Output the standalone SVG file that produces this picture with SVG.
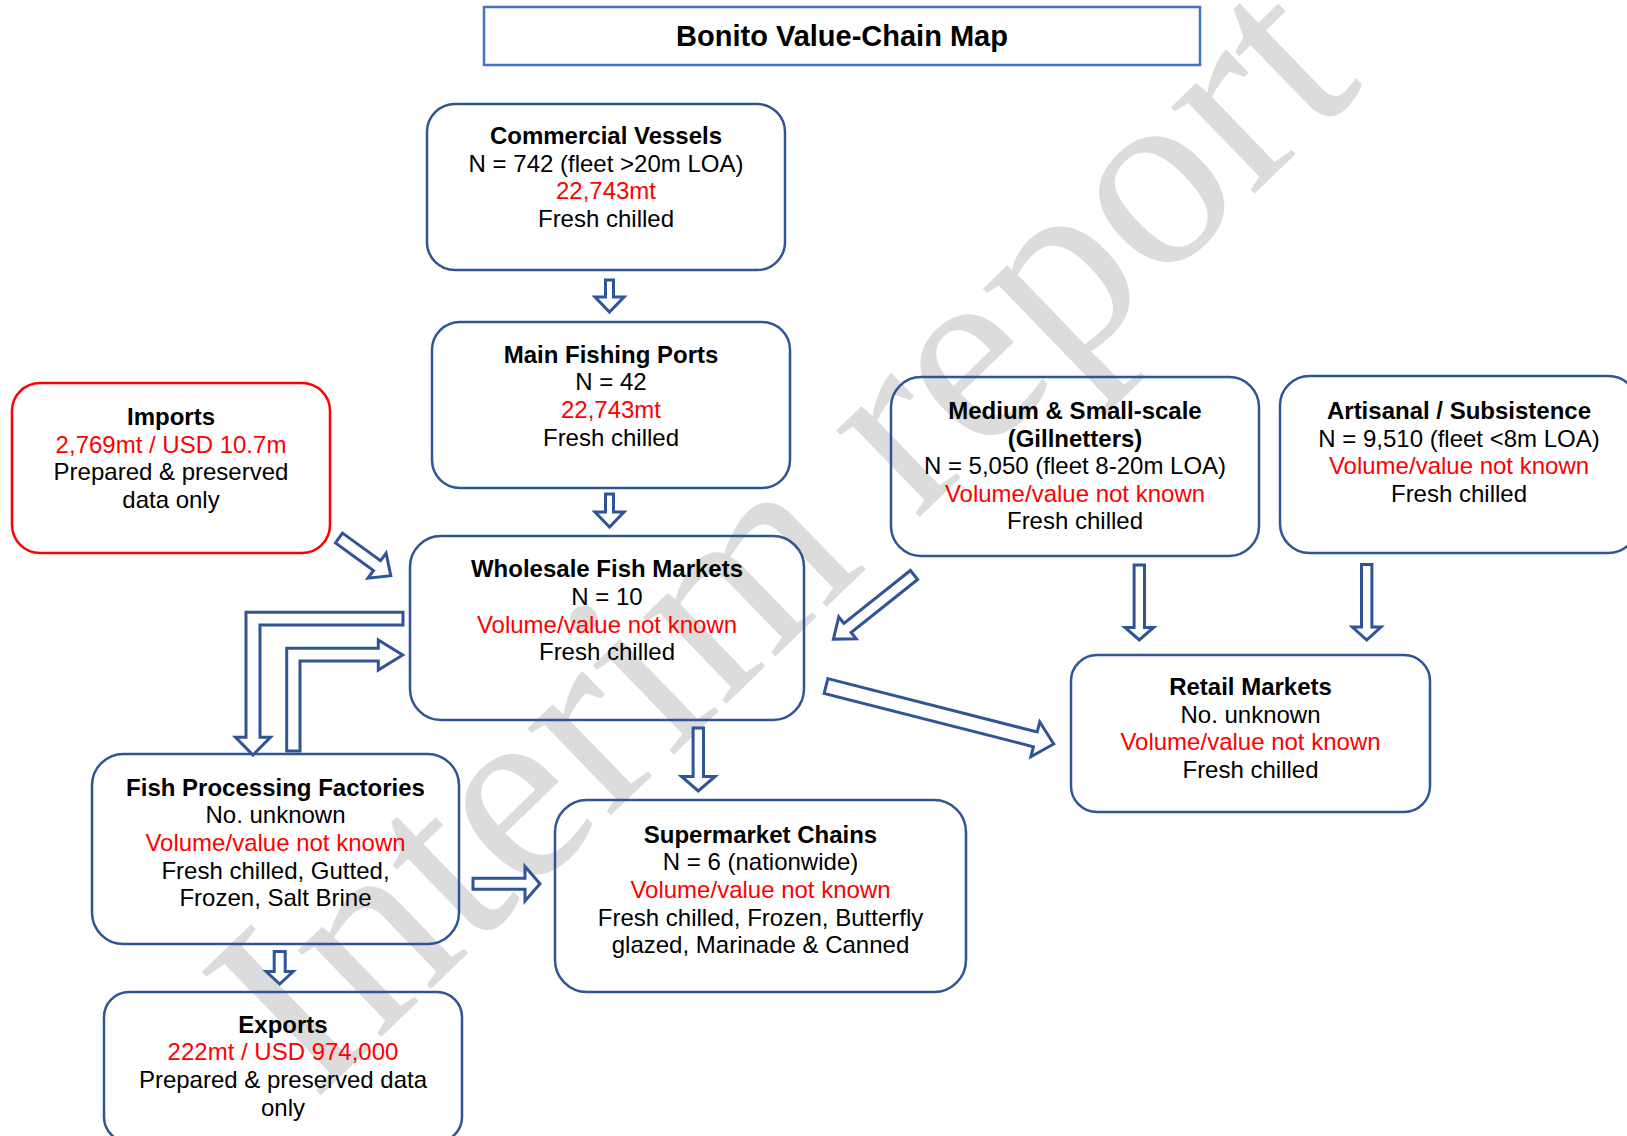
<svg xmlns="http://www.w3.org/2000/svg" width="1627" height="1136" viewBox="0 0 1627 1136">
<style>
.box{fill:none;stroke:#2F5597;stroke-width:2.5}
.rbox{fill:none;stroke:#FF0000;stroke-width:2.5}
.tbox{fill:none;stroke:#4472C4;stroke-width:2.5}
text{font-family:"Liberation Sans",Arial,sans-serif;font-size:24px;text-anchor:middle;fill:#000}
.b{font-weight:bold}
.r{fill:#FF0000}
.arrow{fill:#fff;stroke:#2F5597;stroke-width:3;stroke-linejoin:miter}
.wm{font-family:"Liberation Serif","Times New Roman",serif;font-size:262px;fill:#dcdcdc;text-anchor:middle}
</style>
<rect width="1627" height="1136" fill="#fff"/>
<text class="wm" x="840" y="594" transform="rotate(-44 840 594)">Interim report</text>

<g id="title">
<rect class="tbox" x="484" y="7" width="716" height="58"/>
<text class="b" x="842" y="46" style="font-size:29px">Bonito Value-Chain Map</text>
</g>

<g id="commercial-vessels">
<rect class="box" x="427" y="104" width="358" height="166" rx="28"/>
<text class="b" x="606" y="144">Commercial Vessels</text>
<text x="606" y="171.6">N = 742 (fleet &gt;20m LOA)</text>
<text class="r" x="606" y="199.2">22,743mt</text>
<text x="606" y="226.8">Fresh chilled</text>
</g>

<g id="main-fishing-ports">
<rect class="box" x="432" y="322" width="358" height="166" rx="28"/>
<text class="b" x="611" y="362.7">Main Fishing Ports</text>
<text x="611" y="390.3">N = 42</text>
<text class="r" x="611" y="417.9">22,743mt</text>
<text x="611" y="445.5">Fresh chilled</text>
</g>

<g id="imports">
<rect class="rbox" x="12" y="383" width="318" height="170" rx="28"/>
<text class="b" x="171" y="425">Imports</text>
<text class="r" x="171" y="452.6">2,769mt / USD 10.7m</text>
<text x="171" y="480.2">Prepared &amp; preserved</text>
<text x="171" y="507.8">data only</text>
</g>

<g id="wholesale-fish-markets">
<rect class="box" x="410" y="536" width="394" height="184" rx="31"/>
<text class="b" x="607" y="577.3">Wholesale Fish Markets</text>
<text x="607" y="604.9">N = 10</text>
<text class="r" x="607" y="632.5">Volume/value not known</text>
<text x="607" y="660.1">Fresh chilled</text>
</g>

<g id="medium-small-scale">
<rect class="box" x="891" y="377" width="368" height="179" rx="30"/>
<text class="b" x="1075" y="419">Medium &amp; Small-scale</text>
<text class="b" x="1075" y="446.6">(Gillnetters)</text>
<text x="1075" y="474.2">N = 5,050 (fleet 8-20m LOA)</text>
<text class="r" x="1075" y="501.8">Volume/value not known</text>
<text x="1075" y="529.4">Fresh chilled</text>
</g>

<g id="artisanal-subsistence">
<rect class="box" x="1280" y="376" width="358" height="177" rx="29.5"/>
<text class="b" x="1459" y="419">Artisanal / Subsistence</text>
<text x="1459" y="446.6">N = 9,510 (fleet &lt;8m LOA)</text>
<text class="r" x="1459" y="474.2">Volume/value not known</text>
<text x="1459" y="501.8">Fresh chilled</text>
</g>

<g id="retail-markets">
<rect class="box" x="1071" y="655" width="359" height="157" rx="26"/>
<text class="b" x="1250.5" y="695">Retail Markets</text>
<text x="1250.5" y="722.6">No. unknown</text>
<text class="r" x="1250.5" y="750.2">Volume/value not known</text>
<text x="1250.5" y="777.8">Fresh chilled</text>
</g>

<g id="fish-processing-factories">
<rect class="box" x="92" y="754" width="367" height="190" rx="31.5"/>
<text class="b" x="275.5" y="795.7">Fish Processing Factories</text>
<text x="275.5" y="823.3">No. unknown</text>
<text class="r" x="275.5" y="850.9">Volume/value not known</text>
<text x="275.5" y="878.5">Fresh chilled, Gutted,</text>
<text x="275.5" y="906.1">Frozen, Salt Brine</text>
</g>

<g id="supermarket-chains">
<rect class="box" x="555" y="800" width="411" height="192" rx="32"/>
<text class="b" x="760.5" y="842.7">Supermarket Chains</text>
<text x="760.5" y="870.3">N = 6 (nationwide)</text>
<text class="r" x="760.5" y="897.9">Volume/value not known</text>
<text x="760.5" y="925.5">Fresh chilled, Frozen, Butterfly</text>
<text x="760.5" y="953.1">glazed, Marinade &amp; Canned</text>
</g>

<g id="exports">
<rect class="box" x="104" y="992" width="358" height="150" rx="25"/>
<text class="b" x="283" y="1032.7">Exports</text>
<text class="r" x="283" y="1060.3">222mt / USD 974,000</text>
<text x="283" y="1087.9">Prepared &amp; preserved data</text>
<text x="283" y="1115.5">only</text>
</g>

<g id="connectors">
<polygon class="arrow" points="605.5,280 613.5,280 613.5,297 624,297 609.5,312 595,297 605.5,297"/>
<polygon class="arrow" points="605.5,494 613.5,494 613.5,512 624,512 609.5,527 595,512 605.5,512"/>
<polygon class="arrow" points="1134.1,565 1144.5,565 1144.5,627.5 1153.6,627.5 1139.3,640 1125,627.5 1134.1,627.5"/>
<polygon class="arrow" points="1361.5,564.5 1371.9,564.5 1371.9,627 1381,627 1366.7,640 1352.4,627 1361.5,627"/>
<polygon class="arrow" points="693.1,728 703.5,728 703.5,776.5 715.1,776.5 698.3,791 681.5,776.5 693.1,776.5"/>
<polygon class="arrow" points="274.2,951.5 285.2,951.5 285.2,971.5 293.2,971.5 279.7,984 266.2,971.5 274.2,971.5"/>
<polygon class="arrow" points="473,878.2 525,878.2 525,866.4 540,883.7 525,901 525,889.2 473,889.2"/>
<polygon class="arrow" transform="translate(339,538) rotate(36)" points="0,-6 47,-6 47,-15.5 64,0 47,15.5 47,6 0,6"/>
<polygon class="arrow" transform="translate(914,575) rotate(141.5)" points="0,-5.8 85,-5.8 85,-14 103,0 85,14 85,5.8 0,5.8"/>
<polygon class="arrow" transform="translate(826,686) rotate(14.3)" points="0,-7.6 216,-7.6 216,-18 235,0 216,18 216,7.6 0,7.6"/>
<polygon class="arrow" points="403,612.3 246,612.3 246,737.3 235.5,737.3 253,755 270.5,737.3 260,737.3 260,625 403,625"/>
<polygon class="arrow" points="286.7,751 286.7,648.3 378.3,648.3 378.3,640 402.7,655 378.3,670 378.3,661 300,661 300,751"/>
</g>
</svg>
